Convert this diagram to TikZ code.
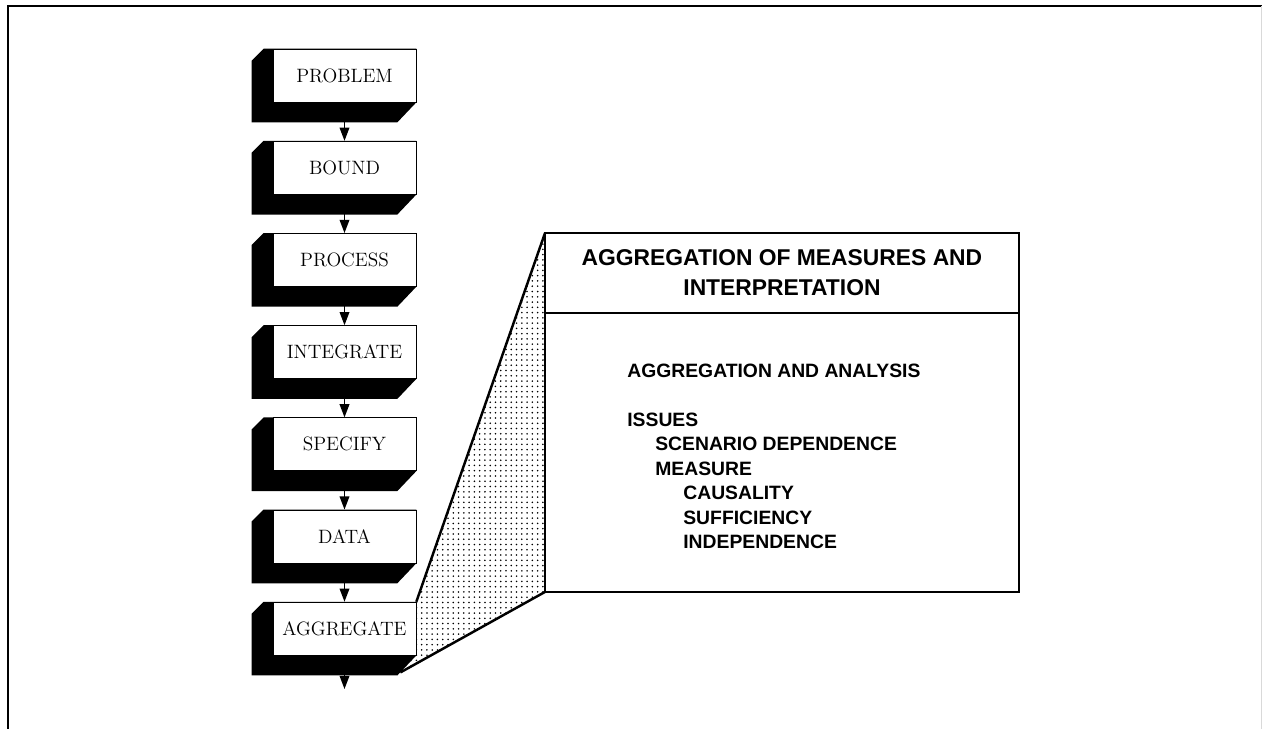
\documentclass[tikz,border=0pt]{standalone}
\usepackage{fontspec}
\newfontfamily\panelfont{Liberation Sans}
\usepackage{tikz}
\usetikzlibrary{positioning, calc, patterns, arrows.meta, backgrounds}

\tikzset{
  stage/.style={draw, thin, fill=white, minimum width=2.86cm, minimum height=1.06cm, inner sep=0pt, font=\fontsize{11}{13}\selectfont},
  arr/.style={-{Triangle[width=5.5pt,length=7.5pt]}, line width=0.8pt},
  panel/.style={draw, line width=1.6pt, minimum width=9.48cm, inner sep=0pt, outer sep=0pt},
  item/.style={anchor=base west, inner sep=0pt, font=\panelfont\bfseries\fontsize{11}{13}\selectfont},
  edge/.style={line width=1.4pt}
}

\begin{document}
\begin{tikzpicture}[x=0.02cm, y=-0.02cm]
  \useasboundingbox (0,0) rectangle (1262,729);
  % frame
  \draw[line width=1pt] (8,729) -- (8,6) -- (1262,6);
  \draw[black!15] (1261,6) -- (1261,729);

  % stages
  \node[stage] (problem) at (344.5,75.5) {PROBLEM};
  \node[stage, below=0.77cm of problem] (bound) {BOUND};
  \node[stage, below=0.77cm of bound] (process) {PROCESS};
  \node[stage, below=0.77cm of process] (integrate) {INTEGRATE};
  \node[stage, below=0.77cm of integrate] (specify) {SPECIFY};
  \node[stage, below=0.77cm of specify] (data) {DATA};
  \node[stage, below=0.77cm of data] (aggregate) {AGGREGATE};
  \coordinate (exit) at (344.5,689);

  % expanded panel
  \node[panel, minimum height=1.6cm, anchor=north west, align=center,
        font=\panelfont\bfseries\fontsize{13}{17}\selectfont] (head) at (545,233)
        {AGGREGATION OF MEASURES AND\\INTERPRETATION};
  \node[panel, minimum height=5.58cm, below=0pt of head] (body) {};

  \node[item] (analysis) at (627,378) {AGGREGATION AND ANALYSIS};
  \node[item] (issues) at (627,426.5) {ISSUES};
  \node[item] (scenario) at (655,451) {SCENARIO DEPENDENCE};
  \node[item] (measure) at (655,475.5) {MEASURE};
  \node[item] (causality) at (683,500) {CAUSALITY};
  \node[item] (sufficiency) at (683,524.5) {SUFFICIENCY};
  \node[item] (independence) at (683,549) {INDEPENDENCE};

  \begin{pgfonlayer}{background}
    \fill[pattern=dots, pattern color=black] (head.north west) -- (aggregate.north east)
      -- (aggregate.south east) -- ++(-16,17) coordinate (tip) -- (body.south west) -- cycle;
    \foreach \s in {problem,bound,process,integrate,specify,data,aggregate}
      \fill (\s.north west) ++(-21,12) coordinate (c) -- ++(12,-12) -- (\s.north east)
        -- (\s.south east) -- ++(-19,20) -| (c) -- cycle;
  \end{pgfonlayer}

  \draw[edge] (head.north west) -- (aggregate.north east);
  \draw[edge] (tip) -- (body.south west);

  \foreach \a/\b in {problem/bound,bound/process,process/integrate,integrate/specify,specify/data,data/aggregate,aggregate/exit}
    \draw[arr] (\a) -- (\b);
\end{tikzpicture}
\end{document}
